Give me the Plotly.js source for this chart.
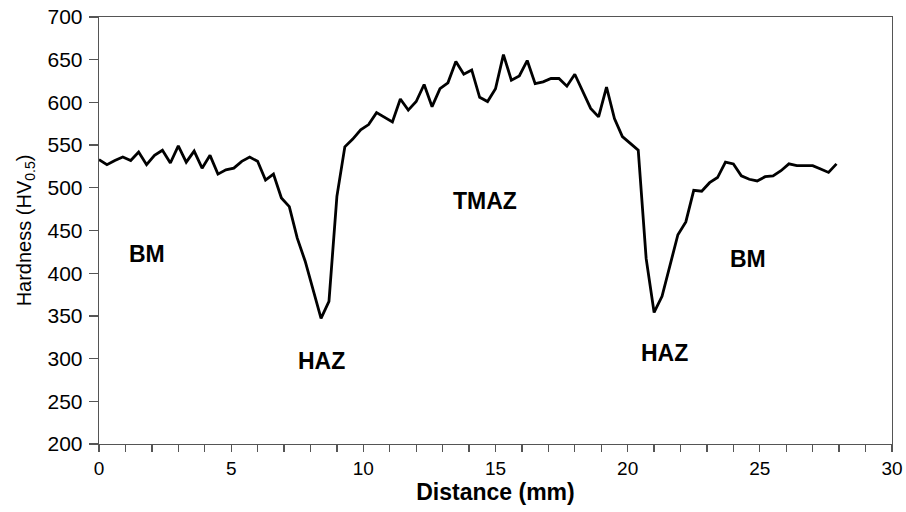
<!DOCTYPE html>
<html>
<head>
<meta charset="utf-8">
<script src="https://cdn.plot.ly/plotly-3.0.1.min.js"></script>
<style>html,body{margin:0;padding:0;background:#fff;}#chart{width:906px;height:512px;}</style>
</head>
<body>
<div id="chart"></div>
<script>
const distance = [0,0.3,0.6,0.9,1.2,1.5,1.8,2.1,2.4,2.7,3.0,3.3,3.6,3.9,4.2,4.5,4.8,5.1,5.4,5.7,
  6.0,6.3,6.6,6.9,7.2,7.5,7.8,8.1,8.4,8.7,9.0,9.3,9.6,9.9,10.2,10.5,10.8,11.1,11.4,11.7,
  12.0,12.3,12.6,12.9,13.2,13.5,13.8,14.1,14.4,14.7,15.0,15.3,15.6,15.9,16.2,16.5,16.8,17.1,17.4,17.7,
  18.0,18.3,18.6,18.9,19.2,19.5,19.8,20.1,20.4,20.7,21.0,21.3,21.6,21.9,22.2,22.5,22.8,23.1,23.4,23.7,
  24.0,24.3,24.6,24.9,25.2,25.5,25.8,26.1,26.4,26.7,27.0,27.3,27.6,27.9];
const hardness = [533,527,532,536,532,542,527,538,544,529,549,530,543,523,538,516,521,523,531,536,
  531,509,516,488,478,441,414,382,347,367,490,548,557,568,574,588,583,577,604,591,
  601,621,595,616,623,648,633,638,606,601,616,656,626,631,649,622,624,628,628,619,
  633,612,593,583,618,581,560,552,544,417,354,373,408,445,460,497,496,506,512,530,
  528,514,510,508,513,514,520,528,526,526,526,522,518,528];
const zoneLabels = ["BM","HAZ","TMAZ","HAZ","BM"];
const zoneX = [1.8,8.4,14.6,21.4,24.55];
const zoneY = [422,297,484,306,417];

const font = "Liberation Sans, Arial, sans-serif";
const data = [{
  x: distance, y: hardness, type: 'scatter', mode: 'lines',
  line: {color: '#000', width: 2.8}, showlegend: false, hoverinfo: 'skip'
}];
const annotations = zoneLabels.map((t, i) => ({
  x: zoneX[i], y: zoneY[i], xref: 'x', yref: 'y', text: '<b>' + t + '</b>',
  showarrow: false, font: {family: font, size: 23, color: '#000'}
}));
const layout = {
  width: 906, height: 512,
  margin: {l: 99, r: 14, t: 17, b: 68},
  paper_bgcolor: '#fff', plot_bgcolor: '#fff',
  font: {family: font, color: '#000'},
  xaxis: {
    range: [0, 30], dtick: 5, tick0: 0, showgrid: false, zeroline: false,
    showline: true, linecolor: '#555', linewidth: 1.3, mirror: true,
    ticks: 'outside', ticklen: 7, tickcolor: '#555', tickwidth: 1.3,
    minor: {dtick: 1, ticks: 'outside', ticklen: 7, tickcolor: '#555', tickwidth: 1.3, showgrid: false},
    tickfont: {family: font, size: 19, color: '#000'},
    title: {text: '<b>Distance (mm)</b>', font: {family: font, size: 23, color: '#000'}, standoff: 4}
  },
  yaxis: {
    range: [200, 700], dtick: 50, showgrid: false, zeroline: false,
    showline: true, linecolor: '#555', linewidth: 1.3, mirror: true,
    ticks: 'outside', ticklen: 9, tickcolor: '#555', tickwidth: 1.3,
    ticklabelstandoff: 2,
    tickfont: {family: font, size: 21, color: '#000'},
    title: {text: 'Hardness (HV<sub>0.5</sub>)', font: {family: font, size: 20, color: '#000'}, standoff: 10}
  },
  annotations: annotations
};
Plotly.newPlot('chart', data, layout, {staticPlot: true, displayModeBar: false});
</script>
</body>
</html>
